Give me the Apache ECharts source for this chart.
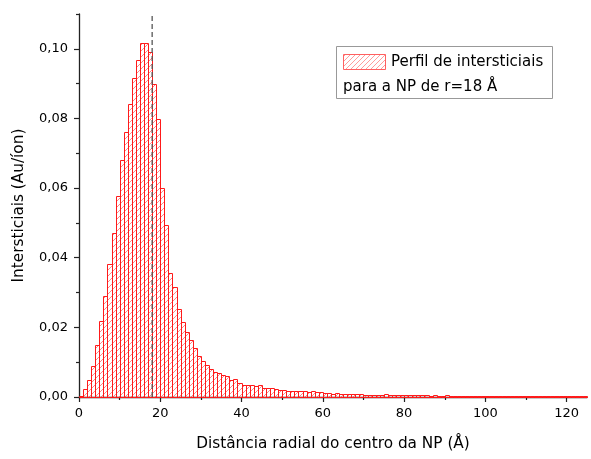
<!DOCTYPE html>
<html><head><meta charset="utf-8">
<script src="https://cdn.jsdelivr.net/npm/echarts@6/dist/echarts.min.js"></script>
<style>html,body{margin:0;padding:0;background:#fff}#c{width:591px;height:459px}</style>
</head><body><div id="c"></div>
<script>
// Histogram bins: left edge (Å), width 1 Å
const binStart = [0,1,2,3,4,5,6,7,8,9,10,11,12,13,14,15,16,17,18,19,20,21,22,23,24,25,26,27,28,29,
  30,31,32,33,34,35,36,37,38,39,40,41,42,43,44,45,46,47,48,49,50,51,52,53,54,55,56,57,58,59,
  60,61,62,63,64,65,66,67,68,69,70,71,72,73,74,75,76,77,78,79,80,81,82,83,84,85,86,87,88,89,
  90,91,92,93,94,95,96,97,98,99,100,101,102,103,104,105,106,107,108,109,110,111,112,113,114,115,116,117,118,119,
  120,121,122,123,124];
const binWidth = 1;
const values = [0.0002,0.0024,0.0050,0.0090,0.0149,0.0219,0.0291,0.0382,0.0472,0.0577,
  0.0680,0.0762,0.0841,0.0917,0.0968,0.1018,0.1018,0.0991,0.0900,0.0797,
  0.0601,0.0495,0.0355,0.0317,0.0253,0.0216,0.0186,0.0163,0.0141,0.0119,
  0.0102,0.0093,0.0081,0.0072,0.0069,0.0063,0.0059,0.0050,0.0053,0.0039,
  0.0035,0.0034,0.0034,0.0031,0.0034,0.0026,0.0026,0.0026,0.0024,0.0021,
  0.0021,0.0018,0.0018,0.0018,0.0018,0.0018,0.0013,0.0016,0.0013,0.0013,
  0.0011,0.0011,0.0010,0.0011,0.0010,0.0010,0.0008,0.0009,0.0009,0.0009,
  0.0006,0.0006,0.0006,0.0006,0.0006,0.0008,0.0006,0.0007,0.0005,0.0006,
  0.0005,0.0007,0.0006,0.0006,0.0005,0.0005,0.0004,0.0005,0.0004,0.0004,
  0.0005,0.0004,0.0004,0.0003,0.0004,0.0004,0.0003,0.0004,0.0003,0.0004,
  0.0003,0.0003,0.0004,0.0003,0.0003,0.0004,0.0003,0.0003,0.0002,0.0003,
  0.0003,0.0002,0.0003,0.0002,0.0002,0.0003,0.0002,0.0002,0.0002,0.0002,
  0.0003,0.0002,0.0002,0.0002,0.0002];
const xTicks = [0,20,40,60,80,100,120];
const xMinorTicks = [10,30,50,70,90,110];
const yTicks = [0,0.02,0.04,0.06,0.08,0.10];
const yMinorTicks = [0.01,0.03,0.05,0.07,0.09,0.11];
const markerR = 18;
const xMax = 125, yMax = 0.11;
const seriesName = 'Perfil de intersticiais';
const seriesName2 = 'para a NP de r=18 Å';
const xTitle = 'Distância radial do centro da NP (Å)';
const yTitle = 'Intersticiais (Au/íon)';

const FONT = '"DejaVu Sans", Verdana, sans-serif';

function hatch(size, color) {
  const c = document.createElement('canvas'); c.width = size; c.height = size;
  const g = c.getContext('2d'); g.strokeStyle = color; g.lineWidth = 1;
  g.beginPath();
  g.moveTo(-1, size + 1); g.lineTo(size + 1, -1);
  g.moveTo(-2, 2); g.lineTo(2, -2);
  g.moveTo(size - 2, size + 2); g.lineTo(size + 2, size - 2);
  g.stroke();
  return c;
}
const barPattern = { image: hatch(6, 'rgba(255,70,70,0.65)'), repeat: 'repeat' };
const legPattern = { image: hatch(5, 'rgba(255,90,90,0.6)'), repeat: 'repeat' };

const chart = echarts.init(document.getElementById('c'), null, { renderer: 'canvas' });
const axisCommon = {
  type: 'value', splitLine: { show: false },
  axisLine: { show: true, onZero: false, lineStyle: { color: '#222', width: 1.3 } },
  axisTick: { show: true, inside: false, length: 5, lineStyle: { color: '#222', width: 1.2 } }
};
chart.setOption({
  animation: false,
  backgroundColor: '#fff',
  grid: { left: 79, right: 4, top: 14, bottom: 62, containLabel: false, outerBoundsMode: 'none' },
  xAxis: [
    Object.assign({}, axisCommon, {
      min: 0, max: xMax, interval: 20, position: 'bottom',
      name: xTitle, nameLocation: 'middle', nameGap: 40,
      nameTextStyle: { fontFamily: FONT, fontSize: 15.3, color: '#000' },
      axisTick: Object.assign({}, axisCommon.axisTick, { customValues: xTicks }),
      axisLabel: { customValues: xTicks, fontFamily: FONT, fontSize: 13, color: '#000', margin: 10 }
    }),
    Object.assign({}, axisCommon, {
      min: 0, max: xMax, interval: 10, position: 'bottom',
      axisLine: { show: false },
      axisTick: Object.assign({}, axisCommon.axisTick, { length: 3, customValues: xMinorTicks }),
      axisLabel: { show: false }
    })
  ],
  yAxis: [
    Object.assign({}, axisCommon, {
      min: 0, max: yMax, interval: 0.02, position: 'left',
      name: yTitle, nameLocation: 'middle', nameGap: 52,
      nameTextStyle: { fontFamily: FONT, fontSize: 15.3, color: '#000' },
      axisTick: Object.assign({}, axisCommon.axisTick, { customValues: yTicks }),
      axisLabel: { customValues: yTicks, fontFamily: FONT, fontSize: 13, color: '#000', margin: 11,
        formatter: v => v.toFixed(2).replace('.', ',') }
    }),
    Object.assign({}, axisCommon, {
      min: 0, max: yMax, interval: 0.01, position: 'left',
      axisLine: { show: false },
      axisTick: Object.assign({}, axisCommon.axisTick, { length: 3, customValues: yMinorTicks }),
      axisLabel: { show: false }
    })
  ],
  series: [
    {
      name: seriesName, type: 'custom', xAxisIndex: 0, yAxisIndex: 0,
      data: binStart.map((s, i) => [s, s + binWidth, values[i]]),
      encode: { x: [0, 1], y: 2 },
      renderItem: (params, api) => {
        const a = api.coord([api.value(0), 0]);
        const b = api.coord([api.value(1), api.value(2)]);
        const x0 = Math.round(a[0]) + 0.5, x1 = Math.round(b[0]) + 0.5;
        const y0 = Math.round(a[1]) + 0.5, y1 = Math.round(b[1]) + 0.5;
        return { type: 'rect', shape: { x: x0, y: y1, width: x1 - x0, height: y0 - y1 },
          style: { fill: barPattern, stroke: '#ff1a1a', lineWidth: 1 } };
      }
    },
    {
      name: 'r', type: 'line', xAxisIndex: 0, yAxisIndex: 0, silent: true, z: 5,
      data: [[markerR, 0], [markerR, yMax]], symbol: 'none',
      lineStyle: { color: '#555', width: 1.3, type: [5, 3] }
    }
  ],
  graphic: [
    { type: 'rect', shape: { x: 336.5, y: 46.5, width: 216, height: 52 },
      style: { fill: '#fff', stroke: '#999', lineWidth: 1 }, z: 10 },
    { type: 'rect', shape: { x: 343.5, y: 54.5, width: 42, height: 15 },
      style: { fill: legPattern, stroke: '#ff6060', lineWidth: 1 }, z: 11 },
    { type: 'text', x: 391, y: 62.5, z: 11,
      style: { text: seriesName, font: '15px ' + FONT, fill: '#000', verticalAlign: 'middle' } },
    { type: 'text', x: 343, y: 87, z: 11,
      style: { text: seriesName2, font: '15px ' + FONT, fill: '#000', verticalAlign: 'middle' } }
  ]
});
</script>
</body></html>
